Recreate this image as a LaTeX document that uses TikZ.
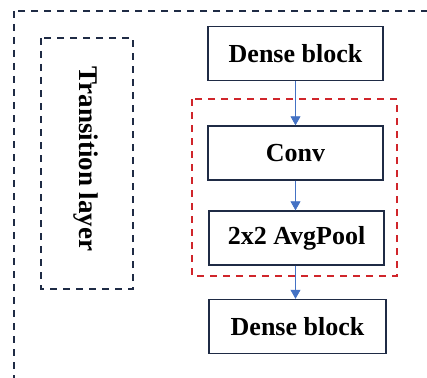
\documentclass[tikz,border=0pt]{standalone}
\usepackage{fontspec}
\setmainfont{Liberation Serif}
\usetikzlibrary{arrows.meta}
\definecolor{navy}{HTML}{1F2B45}
\definecolor{dashred}{HTML}{D0252B}
\definecolor{flowblue}{HTML}{4472C4}
\begin{document}
\begin{tikzpicture}[x=1pt,y=-1pt,
  box/.style={draw=navy,line width=1.4pt,minimum width=175pt,
    minimum height=54pt,font=\fontsize{26}{30}\selectfont\bfseries,inner sep=0pt},
  frame/.style={draw=navy,line width=1.3pt,dash pattern=on 7pt off 6pt},
  group/.style={draw=dashred,line width=1.4pt,dash pattern=on 7pt off 6pt},
  flow/.style={-{Triangle[length=9pt,width=10pt]},draw=flowblue,fill=flowblue,line width=0.8pt}]
\useasboundingbox (0,0) rectangle (427,377);
\clip (0,0) rectangle (427,377);
\draw[frame] (14,11) rectangle (440,390);
\draw[frame] (41,38) rectangle (133,289);
\node[rotate=-90,font=\fontsize{27}{30}\selectfont\bfseries] (label) at (86,159) {Transition layer};
\draw[group] (192,99) rectangle (397,276);
\node[box] (dense1) at (295.5,53.5) {Dense block};
\node[box] (conv) at (295.5,153) {Conv};
\node[box] (pool) at (296.5,238) {2x2 AvgPool};
\node[box,minimum width=177pt] (dense2) at (297.5,326.5) {Dense block};
\draw[flow] (dense1) -- (conv);
\draw[flow] (conv) -- (conv|-pool.north);
\draw[flow] (pool.south-|conv) -- (dense2.north-|conv);
\end{tikzpicture}
\end{document}
